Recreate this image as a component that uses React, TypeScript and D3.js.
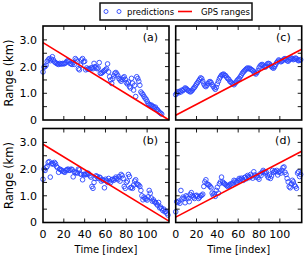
import React from "react";
import * as d3 from "d3";

// predicted ranges (km), one value per time index
const predA = [
  1.80, 1.98, 2.00, 2.05, 2.20, 2.25, 2.30, 2.22, 2.28, 2.37,
  2.25, 2.18, 2.15, 2.12, 2.10, 2.08, 2.12, 2.10, 2.10, 2.12,
  2.10, 2.12, 2.15, 2.20, 2.22, 2.18, 2.12, 2.10, 2.08, 2.15,
  2.08, 2.30, 2.25, 2.20, 1.92, 1.88, 2.05, 2.25, 2.30, 2.18,
  2.20, 1.88, 1.95, 1.90, 1.92, 1.90, 1.95, 1.95, 1.92, 2.12,
  2.00, 1.95, 1.92, 1.95, 2.15, 1.75, 1.75, 1.78, 1.82, 1.85,
  1.88, 1.92, 2.10, 1.80, 1.62, 1.50, 1.37, 1.55, 1.65, 1.75,
  1.78, 1.72, 1.65, 1.55, 1.50, 1.45, 1.52, 1.58, 1.62, 1.52,
  1.40, 1.35, 1.42, 1.25, 1.20, 1.56, 1.38, 1.12, 1.30, 0.88,
  1.62, 1.55, 1.45, 1.30, 1.05, 1.00, 0.95, 0.88, 0.82, 0.78,
  0.70, 0.62, 0.58, 0.55, 0.56, 0.52, 0.50, 0.45, 0.48, 0.40,
  0.38, 0.32, 0.28, 0.25, 0.22,
];
const predB = [
  1.62, 2.00, 1.95, 2.05, 2.10, 2.25, 2.28, 1.70, 2.20, 2.22,
  2.18, 2.25, 2.20, 2.10, 2.05, 1.88, 2.00, 1.98, 1.95, 1.92,
  1.90, 1.88, 1.95, 1.98, 2.00, 1.95, 1.96, 2.00, 1.98, 1.71,
  1.90, 1.86, 1.88, 1.85, 2.00, 1.97, 1.82, 1.80, 1.60, 1.80,
  1.78, 1.82, 1.80, 1.85, 1.82, 1.75, 1.70, 1.35, 1.28, 1.50,
  1.65, 1.75, 1.72, 1.65, 1.70, 1.68, 1.55, 1.60, 1.58, 1.30,
  1.62, 1.58, 1.50, 1.65, 1.55, 1.50, 1.60, 1.62, 1.58, 1.64,
  1.70, 1.65, 1.60, 1.72, 1.55, 1.80, 1.75, 1.65, 1.35, 1.28,
  1.50, 1.55, 1.80, 1.72, 1.30, 1.32, 1.28, 1.40, 1.55, 1.60,
  1.45, 1.42, 1.40, 1.35, 1.20, 1.00, 0.85, 0.95, 0.90, 0.88,
  0.84, 0.96, 1.20, 1.10, 0.92, 0.80, 0.85, 0.78, 0.75, 0.70,
  0.65, 0.75, 0.55, 0.58, 0.52, 0.45, 0.50, 0.40, 0.42, 0.35,
  0.28,
];
const predC = [
  0.95, 1.00, 1.06, 1.02, 1.08, 1.05, 1.12, 1.10, 1.15, 1.20,
  1.18, 1.14, 1.10, 1.08, 1.05, 1.08, 1.12, 1.18, 1.22, 1.28,
  1.35, 1.40, 1.46, 1.52, 1.58, 1.55, 1.45, 1.35, 1.28, 1.25,
  1.30, 1.36, 1.42, 1.44, 1.40, 1.32, 1.26, 1.20, 1.15, 1.22,
  1.35, 1.45, 1.55, 1.62, 1.68, 1.70, 1.72, 1.68, 1.66, 1.60,
  1.55, 1.52, 1.45, 1.42, 1.38, 1.35, 1.32, 1.38, 1.42, 1.48,
  1.52, 1.56, 1.62, 1.68, 1.75, 1.80, 1.84, 1.88, 1.92, 1.95,
  1.92, 1.94, 1.90, 1.88, 1.85, 1.80, 1.75, 1.72, 1.78, 1.85,
  1.95, 2.02, 2.06, 2.08, 2.05, 2.00, 1.98, 2.02, 2.10, 2.12,
  2.10, 2.05, 2.00, 1.96, 1.94, 2.00, 2.08, 2.15, 2.20, 2.25,
  2.22, 2.18, 2.20, 2.24, 2.28, 2.30, 2.26, 2.22, 2.20, 2.25,
  2.28, 2.32, 2.30, 2.26, 2.28, 2.32, 2.30, 2.25, 2.22, 2.24,
  2.26,
];
const predD = [
  0.40, 0.78, 0.75, 0.80, 0.72, 1.20, 0.88, 0.95, 0.90, 0.74,
  1.00, 0.96, 0.90, 0.78, 1.05, 1.12, 1.00, 0.95, 0.90, 1.00,
  1.02, 0.98, 0.90, 0.95, 1.00, 1.02, 1.06, 1.35, 1.52, 1.60,
  1.45, 1.42, 1.40, 1.35, 1.30, 1.10, 1.02, 1.08, 0.98, 1.20,
  1.32, 1.10, 1.45, 1.52, 1.70, 1.52, 1.48, 1.45, 1.42, 1.38,
  1.35, 1.38, 1.42, 1.45, 1.40, 1.48, 1.58, 1.55, 1.50, 1.52,
  1.58, 1.65, 1.60, 1.66, 1.62, 1.58, 1.68, 1.70, 1.64, 1.76,
  1.72, 1.68, 1.80, 1.74, 1.66, 1.90, 1.78, 1.70, 1.75, 1.68,
  1.62, 1.82, 1.76, 1.88, 1.95, 1.90, 1.85, 1.88, 1.75, 1.68,
  1.78, 1.65, 1.74, 1.95, 1.88, 1.92, 1.90, 1.95, 1.78, 1.88,
  1.92, 1.85, 1.95, 2.05, 2.08, 1.88, 1.80, 1.65, 1.52, 1.34,
  1.30, 1.45, 1.58, 1.52, 1.40, 1.35, 1.28, 1.85, 1.90, 1.72,
  1.80,
];

// GPS ranges: value at start and end of the time axis
const gpsX = [0, 121];
const gpsA = [2.9, 0.0];
const gpsB = [2.93, 0.05];
const gpsC = [0.18, 2.65];
const gpsD = [0.2, 2.67];

const xTicks = [0, 20, 40, 60, 80, 100];
const yTicks = [0, 0.5, 1.0, 1.5, 2.0, 2.5, 3.0, 3.5];
const yLabels = ["0", "", "1.0", "", "2.0", "", "3.0", ""];
const panelNames = ["(a)", "(b)", "(c)", "(d)"];

const W = 308, H = 260;
const font = "DejaVu Sans, sans-serif";
const blue = "#2a45ff";

const Panel = ({ x0, y0, w, h, pred, gps, name, showX, showY }) => {
  const x = d3.scaleLinear().domain([0, 121]).range([x0, x0 + w]);
  const y = d3.scaleLinear().domain([0, 3.52]).range([y0 + h, y0]);
  const line = d3.line<number>().x((d, i) => x(gpsX[i])).y((d) => y(d));
  const tl = 4;
  return (
    <g>
      <defs>
        <clipPath id={"clip" + name}>
          <rect x={x0} y={y0} width={w} height={h} />
        </clipPath>
      </defs>
      <g clipPath={`url(#clip${name})`}>
        {pred.map((v, i) => (
          <circle key={i} cx={x(i)} cy={y(v)} r={2.3} fill="none" stroke={blue} strokeWidth={0.9} />
        ))}
        <path d={line(gps) || ""} fill="none" stroke="#ff0000" strokeWidth={1.6} />
      </g>
      {xTicks.slice(1).map((t) => (
        <g key={"xt" + t} stroke="#000" strokeWidth={0.9}>
          <line x1={x(t)} x2={x(t)} y1={y0 + h} y2={y0 + h - tl} />
          <line x1={x(t)} x2={x(t)} y1={y0} y2={y0 + tl} />
        </g>
      ))}
      {yTicks.slice(1, -1).map((t) => (
        <g key={"yt" + t} stroke="#000" strokeWidth={0.9}>
          <line x1={x0} x2={x0 + tl} y1={y(t)} y2={y(t)} />
          <line x1={x0 + w} x2={x0 + w - tl} y1={y(t)} y2={y(t)} />
        </g>
      ))}
      <rect x={x0} y={y0} width={w} height={h} fill="none" stroke="#000" strokeWidth={1.6} />
      <text x={x0 + w - 11} y={y0 + 15} textAnchor="end" fontSize={11} fontFamily={font}>{name}</text>
      {showY && yTicks.map((t, i) => (
        <text key={"yl" + t} x={x0 - 6} y={y(t)} dy="0.36em" textAnchor="end" fontSize={11} fontFamily={font}>{yLabels[i]}</text>
      ))}
      {showY && (
        <text transform={`translate(${9},${y0 + h / 2}) rotate(-90)`} textAnchor="middle" dy="0.36em" fontSize={11.5} fontFamily={font}>Range (km)</text>
      )}
      {showX && xTicks.map((t) => (
        <text key={"xl" + t} x={x(t)} y={y0 + h + 15} textAnchor="middle" fontSize={11} fontFamily={font}>{t}</text>
      ))}
      {showX && (
        <text x={x0 + w / 2} y={y0 + h + 30} textAnchor="middle" fontSize={10} fontFamily={font}>Time [index]</text>
      )}
    </g>
  );
};

export default function App() {
  const left = 43, pw = 126, gap = 6.7, top = 26, ph = 94, vgap = 8.5;
  const cols = [left, left + pw + gap];
  const rows = [top, top + ph + vgap];
  return (
    <svg width={W} height={H} style={{ position: "absolute", left: 0, top: 0, background: "#fff" }}>
      <Panel x0={cols[0]} y0={rows[0]} w={pw} h={ph} pred={predA} gps={gpsA} name={panelNames[0]} showX={false} showY={true} />
      <Panel x0={cols[0]} y0={rows[1]} w={pw} h={ph} pred={predB} gps={gpsB} name={panelNames[1]} showX={true} showY={true} />
      <Panel x0={cols[1]} y0={rows[0]} w={pw} h={ph} pred={predC} gps={gpsC} name={panelNames[2]} showX={false} showY={false} />
      <Panel x0={cols[1]} y0={rows[1]} w={pw} h={ph} pred={predD} gps={gpsD} name={panelNames[3]} showX={true} showY={false} />
      <g>
        <rect x={100} y={3} width={152} height={17} fill="#fff" stroke="#111" strokeWidth={1.5} />
        <circle cx={106} cy={11.5} r={2} fill="none" stroke={blue} strokeWidth={0.9} />
        <circle cx={119} cy={11.5} r={2} fill="none" stroke={blue} strokeWidth={0.9} />
        <text x={127} y={11.5} dy="0.36em" fontSize={8.5} fontFamily={font}>predictions</text>
        <line x1={178} x2={192} y1={11.5} y2={11.5} stroke="#ff0000" strokeWidth={1.6} />
        <text x={201} y={11.5} dy="0.36em" fontSize={8.5} fontFamily={font}>GPS ranges</text>
      </g>
    </svg>
  );
}
